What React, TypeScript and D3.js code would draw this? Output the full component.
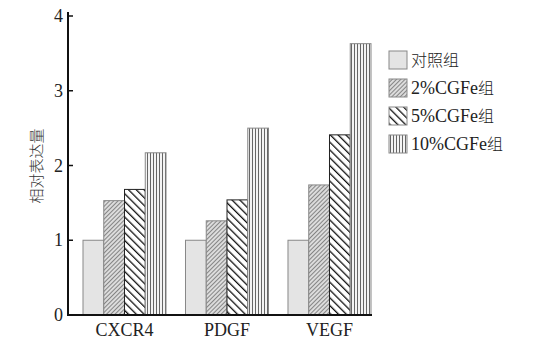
import React, { useRef, useEffect } from 'react'
import * as d3 from 'd3'

const genes = ['CXCR4', 'PDGF', 'VEGF']
const groups = ['对照组', '2%CGFe组', '5%CGFe组', '10%CGFe组']
const control = [1, 1, 1]
const cgfe2 = [1.53, 1.26, 1.74]
const cgfe5 = [1.68, 1.54, 2.41]
const cgfe10 = [2.17, 2.5, 3.63]
const yTicks = [0, 1, 2, 3, 4]
const yLabel = '相对表达量'

const series = [control, cgfe2, cgfe5, cgfe10]
const fills = ['#e4e4e4', 'url(#p2)', 'url(#p5)', 'url(#p10)']
const serif = "'Liberation Serif', serif"
const cjk = "'Noto Sans CJK SC', sans-serif"

export default function App() {
  const svgRef = useRef<SVGSVGElement>(null)

  useEffect(() => {
    const width = 550
    const height = 351
    const margin = { top: 16, left: 68, bottom: 36 }
    const svg = d3.select(svgRef.current)
    svg.selectAll('*').remove()
    svg.attr('width', width).attr('height', height)

    const defs = svg.append('defs')
    // fine diagonal
    const p2 = defs.append('pattern').attr('id', 'p2').attr('patternUnits', 'userSpaceOnUse')
      .attr('width', 3).attr('height', 3).attr('patternTransform', 'rotate(45)')
    p2.append('rect').attr('width', 3).attr('height', 3).attr('fill', '#dcdcdc')
    p2.append('line').attr('x1', 0).attr('y1', 0).attr('x2', 0).attr('y2', 3)
      .attr('stroke', '#555').attr('stroke-width', 1.3)
    // bold back-diagonal
    const p5 = defs.append('pattern').attr('id', 'p5').attr('patternUnits', 'userSpaceOnUse')
      .attr('width', 5.5).attr('height', 5.5).attr('patternTransform', 'rotate(-45)')
    p5.append('rect').attr('width', 5.5).attr('height', 5.5).attr('fill', '#fff')
    p5.append('line').attr('x1', 0).attr('y1', 0).attr('x2', 0).attr('y2', 5.5)
      .attr('stroke', '#111').attr('stroke-width', 2.6)
    // vertical
    const p10 = defs.append('pattern').attr('id', 'p10').attr('patternUnits', 'userSpaceOnUse')
      .attr('width', 3).attr('height', 3)
    p10.append('rect').attr('width', 3).attr('height', 3).attr('fill', '#f4f4f4')
    p10.append('line').attr('x1', 0.5).attr('y1', 0).attr('x2', 0.5).attr('y2', 3)
      .attr('stroke', '#666').attr('stroke-width', 1)

    const y = d3.scaleLinear().domain([0, 4]).range([height - margin.bottom, margin.top])
    const x0 = d3.scaleBand().domain(genes).range([margin.left + 15, 371]).paddingInner(0.19).paddingOuter(0)
    const x1 = d3.scaleBand().domain(groups).range([0, x0.bandwidth()])

    genes.forEach((g, gi) => {
      groups.forEach((grp, si) => {
        const v = series[si][gi]
        svg.append('rect')
          .attr('x', x0(g)! + x1(grp)!)
          .attr('y', y(v))
          .attr('width', x1.bandwidth())
          .attr('height', y(0) - y(v))
          .attr('fill', fills[si])
          .attr('stroke', si === 2 ? '#222' : '#888')
          .attr('stroke-width', 1)
      })
    })

    // axes
    svg.append('line').attr('x1', margin.left).attr('x2', margin.left)
      .attr('y1', 12).attr('y2', y(0)).attr('stroke', '#111').attr('stroke-width', 2)
    svg.append('line').attr('x1', margin.left - 1).attr('x2', 372)
      .attr('y1', y(0)).attr('y2', y(0)).attr('stroke', '#111').attr('stroke-width', 2)

    yTicks.forEach(t => {
      svg.append('line').attr('x1', margin.left).attr('x2', margin.left + 5)
        .attr('y1', y(t)).attr('y2', y(t)).attr('stroke', '#111').attr('stroke-width', 1.5)
      svg.append('text').attr('x', margin.left - 5).attr('y', y(t) + 6)
        .attr('text-anchor', 'end').attr('font-size', 18)
        .attr('font-family', serif).attr('fill', '#222').text(t)
    })

    genes.forEach(g => {
      svg.append('text').attr('x', x0(g)! + x0.bandwidth() / 2).attr('y', 336)
        .attr('text-anchor', 'middle').attr('font-size', 18)
        .attr('font-family', serif).attr('fill', '#222').text(g)
    })

    svg.append('text')
      .attr('transform', `translate(42,166) rotate(-90)`)
      .attr('text-anchor', 'middle').attr('font-size', 15)
      .attr('font-family', cjk).attr('font-weight', 300).attr('fill', '#333').text(yLabel)

    // legend
    const leg = d3.scaleBand().domain(groups).range([46, 158])
    groups.forEach((grp, si) => {
      const cy = leg(grp)! + leg.bandwidth() / 2
      svg.append('rect').attr('x', 389).attr('y', cy - 9).attr('width', 18).attr('height', 18)
        .attr('fill', fills[si]).attr('stroke', '#888').attr('stroke-width', 1)
      const t = svg.append('text').attr('x', 411).attr('y', cy + 6).attr('font-size', 18)
        .attr('fill', '#222')
      const parts = grp.match(/[\u4e00-\u9fff]+|[^\u4e00-\u9fff]+/g) || []
      parts.forEach(p => {
        const isCjk = /[\u4e00-\u9fff]/.test(p)
        t.append('tspan').attr('font-family', isCjk ? cjk : serif)
          .attr('font-size', isCjk ? 16 : 18).attr('font-weight', isCjk ? 300 : 400).text(p)
      })
    })
  }, [])

  return <svg ref={svgRef} style={{ position: 'absolute', left: 0, top: 0 }} />
}
